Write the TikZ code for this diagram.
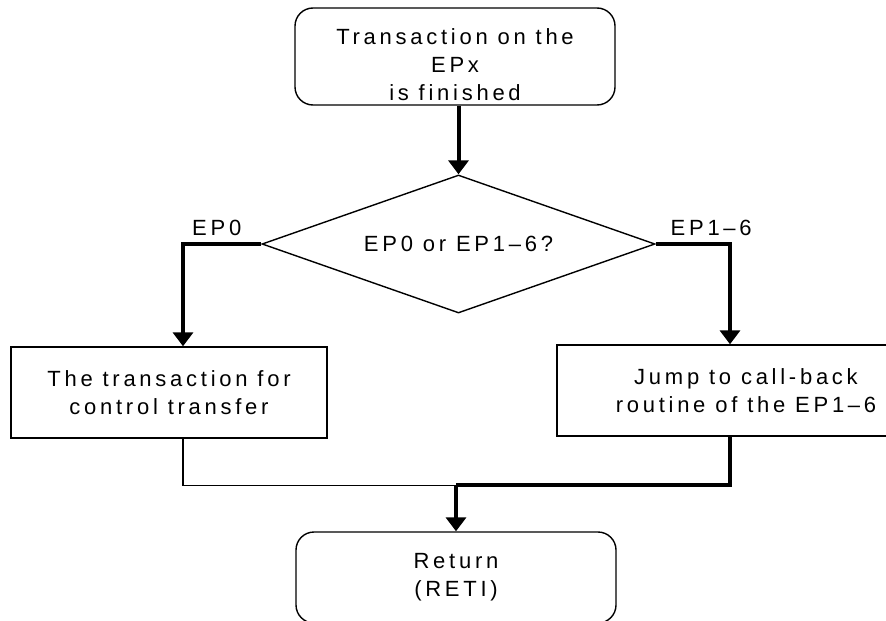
\documentclass[tikz,border=0pt]{standalone}
\usepackage{fontspec}
\setmainfont{Liberation Sans}[LetterSpace=17]
\usetikzlibrary{shapes.geometric,arrows.meta,calc}
\begin{document}
\begin{tikzpicture}[x=1pt,y=-1pt,font=\fontsize{22}{28}\selectfont,
  endbox/.style={draw,line width=1.4pt,rounded corners=18pt,minimum width=320pt,align=center,inner sep=0pt},
  actbox/.style={draw,line width=1.4pt,minimum height=91pt,align=center,inner sep=0pt},
  test/.style={draw,diamond,aspect=2.85,line width=1.4pt,minimum width=393pt,minimum height=138pt,inner sep=0pt},
  flow/.style={line width=4pt,-{Triangle[length=14pt,width=20pt]}},
  mergeline/.style={line width=1.4pt},
  lbl/.style={inner sep=0pt}]
\useasboundingbox (0,0) rectangle (886,621);
\node[endbox,minimum height=97pt] (start) at (455,56.5) {\rule{0pt}{32pt}Transaction on the\\EPx\\is finished};
\node[test] (dec) at (458.5,244) {EP0 or EP1--6?};
\node[actbox,minimum width=316pt] (ctrl) at (169,392.5) {The transaction for\\control transfer};
\node[actbox,minimum width=378pt] (jump) at (746,390.5) {Jump to call-back\\routine of the EP1--6};
\node[endbox,minimum height=91pt] (ret) at (456,577.5) {Return\\(RETI)};
\coordinate (merge) at ($(ret.north)+(0,-46)$);
\draw[flow] (start.south -| dec.north) -- (dec.north);
\draw[flow] (dec.west) node[lbl,anchor=base east,xshift=-18pt,yshift=9pt] {EP0} -| ($(ctrl.north)+(14,0)$);
\draw[flow] (dec.east) node[lbl,anchor=base west,xshift=13pt,yshift=9pt] {EP1--6} -| ($(jump.north)+(-16,0)$);
\draw[mergeline] ($(ctrl.south)+(14,0)$) |- (merge);
\draw[line width=4pt] ($(jump.south)+(-16,0)$) |- (merge);
\draw[flow] (merge) -- (ret.north);
\end{tikzpicture}
\end{document}
